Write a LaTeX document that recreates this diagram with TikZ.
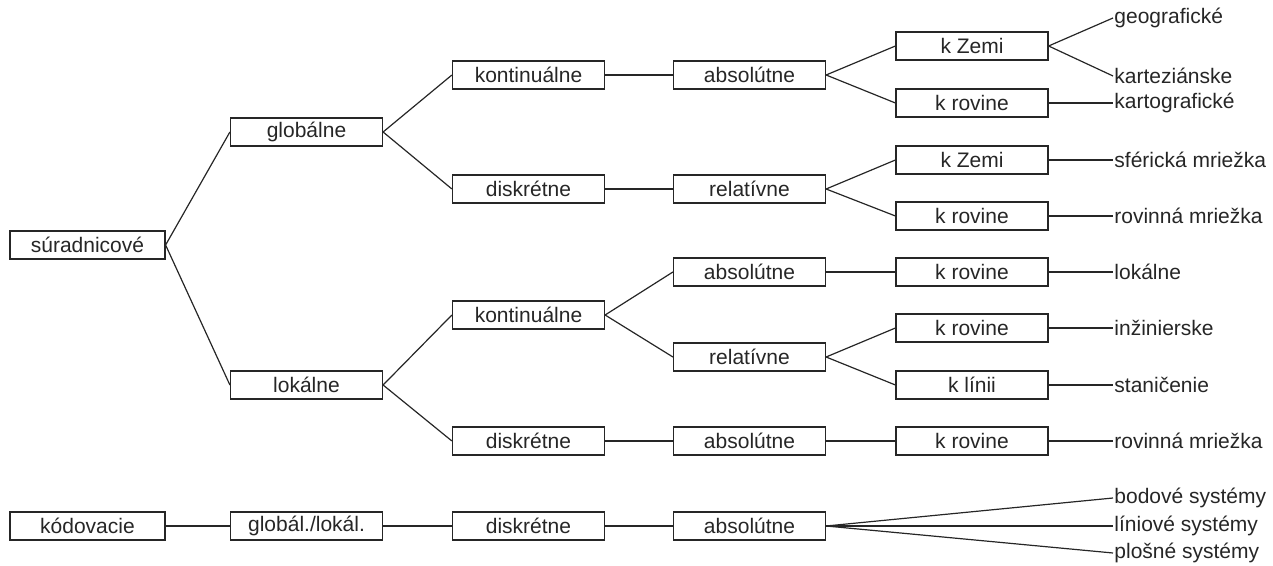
\documentclass[tikz,border=0pt]{standalone}
\usepackage{fontspec}
\setmainfont{Liberation Sans}
\tikzset{
  box/.style={draw,minimum width=76pt,minimum height=14pt,inner sep=0pt,font=\fontsize{10.5}{12}\selectfont},
  leaf/.style={anchor=west,inner sep=0.4pt,font=\fontsize{10.5}{12}\selectfont}
}

\begin{document}
\begin{tikzpicture}[x=0.5pt,y=-0.5pt,line width=0.6pt,color=black!85]
      \useasboundingbox (0,0) rectangle (1273,566);
      \node[box,minimum width=77.5pt] (sur) at (87.5,245) {súradnicové};
      \node[box,minimum width=77.5pt] (kod) at (87.5,526) {kódovacie};
      \node[box] (glob) at (306.5,132) {globálne};
      \node[box] (lok) at (306.5,385) {lokálne};
      \node[box] (globlok) at (306.5,526) {globál./lokál.};
      \node[box] (gkont) at (528.5,75) {kontinuálne};
      \node[box] (gdisk) at (528.5,189) {diskrétne};
      \node[box] (lkont) at (528.5,315) {kontinuálne};
      \node[box] (ldisk) at (528.5,441) {diskrétne};
      \node[box] (kdisk) at (528.5,526) {diskrétne};
      \node[box] (gabs) at (749.5,75) {absolútne};
      \node[box] (grel) at (749.5,189) {relatívne};
      \node[box] (labs) at (749.5,272) {absolútne};
      \node[box] (lrel) at (749.5,357) {relatívne};
      \node[box] (ldabs) at (749.5,441) {absolútne};
      \node[box] (kabs) at (749.5,526) {absolútne};
      \node[box] (zem1) at (972,46) {k Zemi};
      \node[box] (rov1) at (972,103) {k rovine};
      \node[box] (zem2) at (972,160) {k Zemi};
      \node[box] (rov2) at (972,216) {k rovine};
      \node[box] (rov3) at (972,272) {k rovine};
      \node[box] (rov4) at (972,328) {k rovine};
      \node[box] (lin) at (972,385) {k línii};
      \node[box] (rov5) at (972,441) {k rovine};
      \node[leaf] (geo) at (1113,18) {geografické};
      \node[leaf] (kart) at (1113,76) {karteziánske};
      \node[leaf] (kartog) at (1113,103) {kartografické};
      \node[leaf] (sfer) at (1113,160) {sférická mriežka};
      \node[leaf] (mriez1) at (1113,216) {rovinná mriežka};
      \node[leaf] (lokt) at (1113,272) {lokálne};
      \node[leaf] (inz) at (1113,328) {inžinierske};
      \node[leaf] (stan) at (1113,385) {staničenie};
      \node[leaf] (mriez2) at (1113,441) {rovinná mriežka};
      \node[leaf] (bod) at (1113,498) {bodové systémy};
      \node[leaf] (lini) at (1113,526) {líniové systémy};
      \node[leaf] (plos) at (1113,553) {plošné systémy};
      \draw (sur.east) -- (glob.west);
      \draw (sur.east) -- (lok.west);
      \draw (glob.east) -- (gkont.west);
      \draw (glob.east) -- (gdisk.west);
      \draw (lok.east) -- (lkont.west);
      \draw (lok.east) -- (ldisk.west);
      \draw (kod.east) -- (globlok.west);
      \draw (globlok.east) -- (kdisk.west);
      \draw (gkont.east) -- (gabs.west);
      \draw (gdisk.east) -- (grel.west);
      \draw (lkont.east) -- (labs.west);
      \draw (lkont.east) -- (lrel.west);
      \draw (ldisk.east) -- (ldabs.west);
      \draw (kdisk.east) -- (kabs.west);
      \draw (gabs.east) -- (zem1.west);
      \draw (gabs.east) -- (rov1.west);
      \draw (grel.east) -- (zem2.west);
      \draw (grel.east) -- (rov2.west);
      \draw (labs.east) -- (rov3.west);
      \draw (lrel.east) -- (rov4.west);
      \draw (lrel.east) -- (lin.west);
      \draw (ldabs.east) -- (rov5.west);
      \draw (zem1.east) -- (geo.west);
      \draw (zem1.east) -- (kart.west);
      \draw (rov1.east) -- (kartog.west);
      \draw (zem2.east) -- (sfer.west);
      \draw (rov2.east) -- (mriez1.west);
      \draw (rov3.east) -- (lokt.west);
      \draw (rov4.east) -- (inz.west);
      \draw (lin.east) -- (stan.west);
      \draw (rov5.east) -- (mriez2.west);
      \draw (kabs.east) -- (bod.west);
      \draw (kabs.east) -- (lini.west);
      \draw (kabs.east) -- (plos.west);
\end{tikzpicture}
\end{document}
